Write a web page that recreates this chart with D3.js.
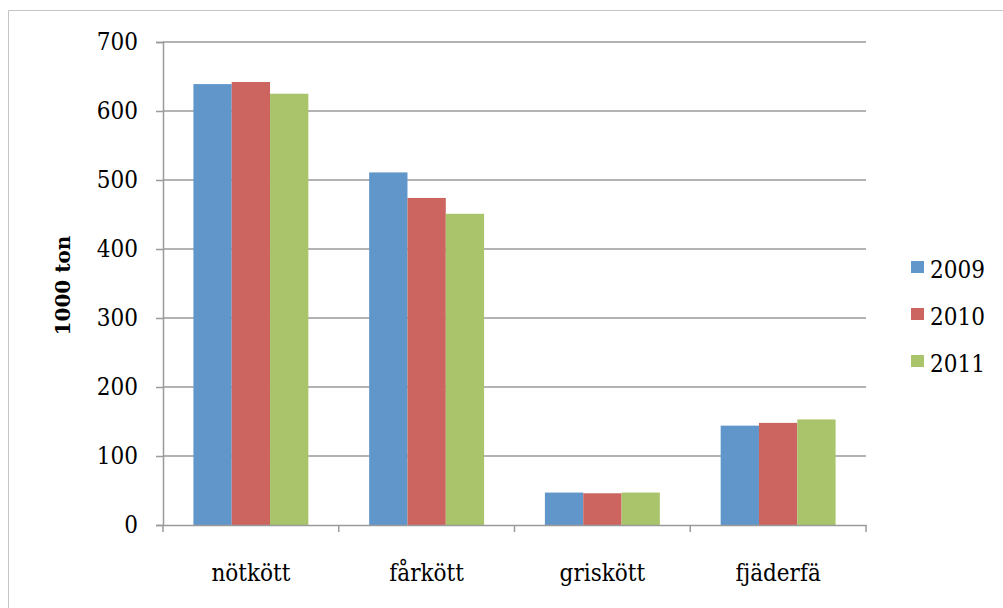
<!DOCTYPE html>
<html lang="sv">
<head>
  <meta charset="UTF-8">
  <title>Kött 1000 ton</title>
  <script src="https://d3js.org/d3.v7.min.js"></script>
  <style>
    body { margin: 0; background: #fff; }
  </style>
</head>
<body>
  <div id="chart"></div>
  <script>
    const categories = ['nötkött', 'fårkött', 'griskött', 'fjäderfä']
    const years = ['2009', '2010', '2011']
    const values2009 = [639, 511, 47, 144]
    const values2010 = [642, 474, 46, 148]
    const values2011 = [625, 451, 47, 153]
    const yTicks = [0, 100, 200, 300, 400, 500, 600, 700]
    const colors = ['#6096CA', '#CC6560', '#A9C46A']

    const labelFont = 'DejaVu Serif Condensed'

    const seriesValues = [values2009, values2010, values2011]
    const rows = categories.map((c, i) => ({
      cat: c,
      vals: years.map((y, j) => ({ year: y, v: seriesValues[j][i], color: colors[j] }))
    }))

    const width = 1003
    const height = 608
    const plot = { left: 163, right: 866, top: 42, bottom: 525 }

    const svg = d3.select('#chart').append('svg')
      .attr('width', width)
      .attr('height', height)

    // outer border, cut off at right and bottom
    svg.append('path')
      .attr('d', `M8.5,${height + 2} V10.5 H${width + 2}`)
      .attr('fill', 'none')
      .attr('stroke', '#c4c4c4')
      .attr('stroke-width', 1)

    const x = d3.scaleBand()
      .domain(categories)
      .range([plot.left, plot.right])
      .padding(0)

    const gap = x.bandwidth() * 0.173
    const xs = d3.scaleBand()
      .domain(years)
      .range([gap, x.bandwidth() - gap])
      .padding(0)

    const y = d3.scaleLinear()
      .domain([0, 700])
      .range([plot.bottom, plot.top])

    // grid
    svg.append('g')
      .selectAll('line')
      .data(yTicks.filter(d => d > 0))
      .enter().append('line')
      .attr('x1', plot.left)
      .attr('x2', plot.right)
      .attr('y1', d => y(d))
      .attr('y2', d => y(d))
      .attr('stroke', '#9a9a9a')
      .attr('stroke-width', 1.5)

    // bars
    const groups = svg.append('g')
      .selectAll('g')
      .data(rows)
      .enter().append('g')
      .attr('transform', d => `translate(${x(d.cat)},0)`)

    groups.selectAll('rect')
      .data(d => d.vals)
      .enter().append('rect')
      .attr('x', d => xs(d.year))
      .attr('width', xs.bandwidth())
      .attr('y', d => y(d.v))
      .attr('height', d => y(0) - y(d.v))
      .attr('fill', d => d.color)

    // y axis
    const yAxis = svg.append('g')
      .attr('transform', `translate(${plot.left},0)`)
      .call(d3.axisLeft(y).tickValues(yTicks).tickSize(7).tickPadding(18).tickFormat(d3.format('d')))
    yAxis.attr('font-family', labelFont).attr('font-size', 24)
    yAxis.select('.domain').attr('stroke', '#9a9a9a').attr('stroke-width', 1.5)
    yAxis.selectAll('.tick line').attr('stroke', '#9a9a9a').attr('stroke-width', 1.5)
    yAxis.selectAll('.tick text').attr('fill', '#000')

    // x axis
    const xAxis = svg.append('g')
      .attr('transform', `translate(0,${plot.bottom})`)
      .call(d3.axisBottom(x).tickSize(0).tickPadding(0))
    xAxis.attr('font-family', labelFont).attr('font-size', 24)
    xAxis.select('.domain').attr('stroke', '#9a9a9a').attr('stroke-width', 1.5)
    xAxis.selectAll('.tick text')
      .attr('y', 56)
      .attr('dy', 0)
      .attr('fill', '#000')

    // category separator ticks
    const sepTicks = categories.map(c => x(c)).concat([plot.right])
    svg.append('g')
      .selectAll('line')
      .data(sepTicks)
      .enter().append('line')
      .attr('x1', d => d)
      .attr('x2', d => d)
      .attr('y1', plot.bottom)
      .attr('y2', plot.bottom + 7)
      .attr('stroke', '#9a9a9a')
      .attr('stroke-width', 1.5)

    // y label
    svg.append('text')
      .attr('transform', `translate(70,${(plot.top + plot.bottom) / 2 + 2}) rotate(-90)`)
      .attr('text-anchor', 'middle')
      .attr('font-family', 'DejaVu Serif')
      .attr('font-size', 20)
      .attr('font-weight', 'bold')
      .text('1000 ton')

    // legend
    const legend = svg.append('g')
      .selectAll('g')
      .data(years)
      .enter().append('g')
      .attr('transform', (d, i) => `translate(911,${261 + i * 47})`)

    legend.append('rect')
      .attr('width', 13)
      .attr('height', 12)
      .attr('fill', (d, i) => colors[i])

    legend.append('text')
      .attr('x', 19)
      .attr('y', 17)
      .attr('font-family', labelFont)
      .attr('font-size', 24)
      .text(d => d)
  </script>
</body>
</html>
